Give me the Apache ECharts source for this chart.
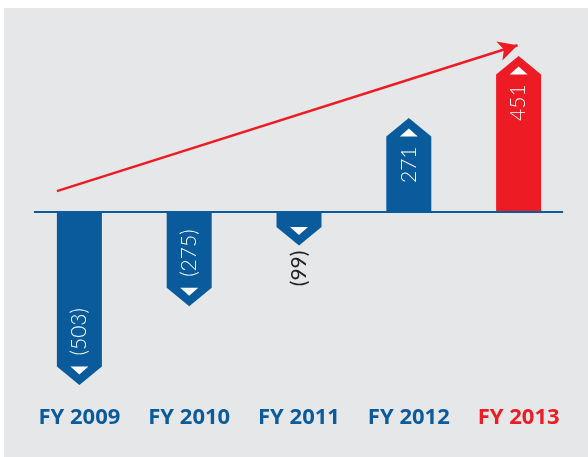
<!DOCTYPE html>
<html>
<head>
<meta charset="utf-8">
<script src="https://cdn.jsdelivr.net/npm/echarts@6/dist/echarts.min.js"></script>
<style>
html, body { margin: 0; padding: 0; background: #fff; }
#chart { width: 588px; height: 457px; }
</style>
</head>
<body>
<div id="chart"></div>
<script>
// data
const categories = ['FY 2009', 'FY 2010', 'FY 2011', 'FY 2012', 'FY 2013'];
const values = [-503, -275, -99, 271, 451];
const highlightIndex = 4;
// trend arrow, in (band index, value) units
const trendStart = [-0.205, 59];
const trendEnd = [3.99, 482];
// zero line extent, in band index units
const baseFrom = -0.414;
const baseTo = 4.405;

const BLUE = '#0a5b9c';
const RED = '#ed1c24';
const BAR_W = 45;
const HEAD = 18.5;

function fmt(v) {
  return v < 0 ? '(' + (-v) + ')' : String(v);
}

const chart = echarts.init(document.getElementById('chart'));

chart.setOption({
  animation: false,
  graphic: [{
    type: 'rect',
    z: -10,
    shape: { x: 4, y: 8, width: 584, height: 449 },
    style: { fill: '#e6e7e8' }
  }],
  grid: { left: 24.5, right: 14.5, top: 39, bottom: 61 },
  xAxis: [{
    type: 'category',
    data: categories,
    axisLine: { show: false },
    axisTick: { show: false },
    axisLabel: {
      margin: 11,
      fontSize: 22,
      fontWeight: 'bold',
      fontFamily: 'Noto Sans',
      color: function (val, idx) { return idx === highlightIndex ? RED : BLUE; }
    }
  }, {
    type: 'value',
    min: -0.5,
    max: 4.5,
    show: false
  }],
  yAxis: { type: 'value', min: -535, max: 500, show: false },
  series: [{
    type: 'line',
    xAxisIndex: 1,
    data: [],
    markLine: {
      silent: true,
      symbol: 'none',
      label: { show: false },
      lineStyle: { color: BLUE, width: 2, type: 'solid' },
      data: [[{ coord: [baseFrom, 0] }, { coord: [baseTo, 0] }]]
    }
  }, {
    type: 'custom',
    xAxisIndex: 0,
    clip: false,
    z: 3,
    data: values.map((v, i) => [i, v]),
    renderItem: function (params, api) {
      const i = api.value(0), v = api.value(1);
      const base = api.coord([i, 0]);
      const tip = api.coord([i, v]);
      const cx = tip[0];
      const dir = v < 0 ? 1 : -1;
      const end = tip[1] - dir * HEAD;
      const x0 = cx - BAR_W / 2, x1 = cx + BAR_W / 2;
      const color = i === highlightIndex ? RED : BLUE;
      const inside = Math.abs(end - base[1]) > 50;
      let label;
      if (inside) {
        label = {
          type: 'text', x: cx, y: v < 0 ? end - 11 : end + 10, rotation: Math.PI / 2,
          style: { text: fmt(v), fill: '#fff', font: '300 21px Lato', align: v < 0 ? 'left' : 'right', verticalAlign: 'middle' }
        };
      } else {
        label = {
          type: 'text', x: cx, y: tip[1] + dir * 5, rotation: Math.PI / 2,
          style: { text: fmt(v), fill: '#222', font: '400 21px Lato', align: v < 0 ? 'right' : 'left', verticalAlign: 'middle' }
        };
      }
      return {
        type: 'group',
        children: [{
          type: 'polygon',
          shape: { points: [[x0, base[1]], [x0, end], [cx, tip[1]], [x1, end], [x1, base[1]]] },
          style: { fill: color }
        }, {
          type: 'polygon',
          shape: { points: [[cx - 9, end], [cx, end + dir * 8], [cx + 9, end]] },
          style: { fill: '#fff' }
        }, label]
      };
    }
  }, {
    type: 'line',
    xAxisIndex: 1,
    data: [],
    markLine: {
      silent: true,
      symbol: ['none', 'arrow'],
      symbolSize: [15, 19],
      label: { show: false },
      lineStyle: { color: RED, width: 2.5, type: 'solid' },
      data: [[{ coord: trendStart }, { coord: trendEnd }]]
    }
  }]
});
window.addEventListener('resize', chart.resize);
</script>
</body>
</html>
